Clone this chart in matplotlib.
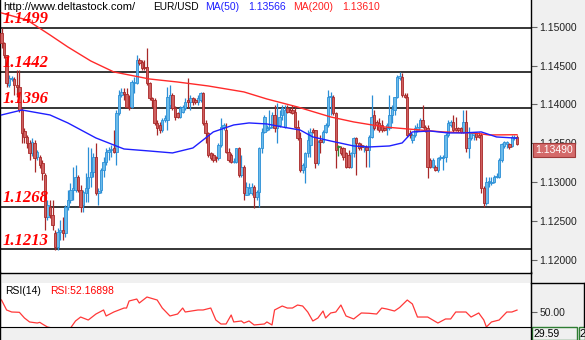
import matplotlib
matplotlib.use("Agg")
import matplotlib.pyplot as plt
from matplotlib.lines import Line2D
from matplotlib.patches import Rectangle
from matplotlib.ticker import FormatStrFormatter
import numpy as np

plt.rcParams['font.family'] = ['Liberation Sans', 'DejaVu Sans']

W, H = 585, 340

# EUR/USD bars, oldest first
opens = [
    1.14923, 1.14794, 1.14639, 1.14252, 1.14329, 1.14329, 1.14252, 1.14226, 1.13929, 1.13658,
    1.13581, 1.13504, 1.13375, 1.13504, 1.13323, 1.13323, 1.13246, 1.13091, 1.12549, 1.12678,
    1.12575, 1.12343, 1.12162, 1.12356, 1.12381, 1.12343, 1.12678, 1.12768, 1.12897, 1.12897,
    1.13065, 1.12897, 1.12704, 1.12859, 1.12923, 1.13065, 1.13130, 1.13323, 1.12859, 1.12897,
    1.13155, 1.13259, 1.13388, 1.13413, 1.13439, 1.13388, 1.13891, 1.14123, 1.14162, 1.14136,
    1.13968, 1.13968, 1.14278, 1.14278, 1.14574, 1.14548, 1.14484, 1.14484, 1.14278, 1.14084,
    1.14058, 1.13762, 1.13736, 1.13671, 1.13800, 1.13800, 1.13994, 1.14123, 1.13955, 1.13891,
    1.13839, 1.13904, 1.13955, 1.14058, 1.14033, 1.14084, 1.14058, 1.14033, 1.14058, 1.14149,
    1.13762, 1.13633, 1.13375, 1.13349, 1.13323, 1.13310, 1.13478, 1.13710, 1.13671, 1.13388,
    1.13349, 1.13259, 1.13259, 1.13439, 1.13091, 1.13194, 1.12833, 1.12859, 1.12859, 1.12936,
    1.12807, 1.12872, 1.13439, 1.13646, 1.13671, 1.13697, 1.13710, 1.13865, 1.13697, 1.13736,
    1.13865, 1.13710, 1.13955, 1.13929, 1.13929, 1.13904, 1.13710, 1.13568, 1.13155, 1.13194,
    1.13375, 1.13478, 1.13671, 1.13671, 1.13246, 1.13542, 1.13517, 1.13646, 1.13736, 1.14097,
    1.14097, 1.13891, 1.13452, 1.13439, 1.13439, 1.13375, 1.13349, 1.13194, 1.13375, 1.13568,
    1.13504, 1.13478, 1.13452, 1.13452, 1.13413, 1.13581, 1.13865, 1.13775, 1.13762, 1.13736,
    1.13697, 1.13697, 1.13697, 1.13865, 1.13929, 1.14097, 1.14342, 1.14355, 1.14123, 1.14097,
    1.13633, 1.13542, 1.13607, 1.13671, 1.13710, 1.13800, 1.13710, 1.13697, 1.13284, 1.13194,
    1.13194, 1.13155, 1.13310, 1.13310, 1.13323, 1.13607, 1.13736, 1.13775, 1.13697, 1.13697,
    1.13697, 1.13646, 1.13775, 1.13439, 1.13568, 1.13607, 1.13633, 1.13607, 1.13607, 1.12923,
    1.12730, 1.13001, 1.12988, 1.13001, 1.13065, 1.13065, 1.13284, 1.13465, 1.13491, 1.13491,
    1.13465, 1.13568, 1.13581,
]
highs = [
    1.14987, 1.14806, 1.14639, 1.14381, 1.14368, 1.14355, 1.14445, 1.14445, 1.13955, 1.13697,
    1.13607, 1.13542, 1.13568, 1.13542, 1.13413, 1.13349, 1.13284, 1.13117, 1.12768, 1.12768,
    1.12768, 1.12381, 1.12407, 1.12510, 1.12549, 1.12704, 1.12897, 1.12988, 1.13194, 1.13220,
    1.13091, 1.12962, 1.12897, 1.13117, 1.13452, 1.13439, 1.13375, 1.13504, 1.12923, 1.13181,
    1.13323, 1.13439, 1.13452, 1.13478, 1.13671, 1.13929, 1.14187, 1.14213, 1.14213, 1.14213,
    1.14123, 1.14316, 1.14355, 1.14639, 1.14600, 1.14574, 1.14574, 1.14729, 1.14290, 1.14097,
    1.14084, 1.13800, 1.13775, 1.13826, 1.13865, 1.14226, 1.14252, 1.14149, 1.13981, 1.13904,
    1.13981, 1.13994, 1.14084, 1.14342, 1.14123, 1.14097, 1.14084, 1.14123, 1.14162, 1.14162,
    1.13800, 1.13646, 1.13388, 1.13375, 1.13336, 1.13504, 1.13826, 1.13762, 1.13762, 1.13439,
    1.13375, 1.13310, 1.13439, 1.13452, 1.13349, 1.13220, 1.13001, 1.12988, 1.12988, 1.12962,
    1.12897, 1.13452, 1.13697, 1.13865, 1.13736, 1.13929, 1.13904, 1.13994, 1.14020, 1.13929,
    1.13994, 1.13994, 1.13994, 1.13955, 1.13994, 1.13968, 1.13800, 1.13646, 1.13246, 1.13388,
    1.13671, 1.13697, 1.13697, 1.13671, 1.13542, 1.13607, 1.13671, 1.13762, 1.14187, 1.14162,
    1.14123, 1.13904, 1.13478, 1.13465, 1.13452, 1.13388, 1.13413, 1.13388, 1.13581, 1.13581,
    1.13517, 1.13504, 1.13478, 1.13478, 1.13607, 1.14123, 1.13929, 1.13800, 1.13826, 1.13800,
    1.13710, 1.13762, 1.14123, 1.13994, 1.14097, 1.14381, 1.14420, 1.14407, 1.14149, 1.14149,
    1.13671, 1.13633, 1.13736, 1.13762, 1.13826, 1.13994, 1.13736, 1.13736, 1.13310, 1.13310,
    1.13220, 1.13323, 1.13349, 1.13349, 1.13633, 1.13800, 1.13800, 1.13865, 1.13839, 1.13710,
    1.13710, 1.13929, 1.13929, 1.13710, 1.13646, 1.13646, 1.13646, 1.13646, 1.13633, 1.12949,
    1.13065, 1.13065, 1.13065, 1.13091, 1.13117, 1.13310, 1.13504, 1.13529, 1.13529, 1.13504,
    1.13607, 1.13607, 1.13607,
]
lows = [
    1.14729, 1.14600, 1.14226, 1.14226, 1.14303, 1.14123, 1.14097, 1.13904, 1.13504, 1.13504,
    1.13439, 1.13284, 1.13336, 1.13130, 1.13284, 1.13181, 1.13026, 1.12381, 1.12510, 1.12536,
    1.12381, 1.12123, 1.12123, 1.12252, 1.12252, 1.12291, 1.12639, 1.12730, 1.12768, 1.12872,
    1.12872, 1.12614, 1.12614, 1.12743, 1.12743, 1.12936, 1.13065, 1.12833, 1.12704, 1.12859,
    1.13065, 1.13220, 1.13284, 1.13323, 1.13375, 1.13220, 1.13865, 1.14097, 1.14058, 1.13955,
    1.13929, 1.13955, 1.14149, 1.14265, 1.14510, 1.14445, 1.14445, 1.14252, 1.14058, 1.13968,
    1.13736, 1.13607, 1.13633, 1.13646, 1.13775, 1.13671, 1.13955, 1.13929, 1.13800, 1.13826,
    1.13826, 1.13891, 1.13929, 1.13955, 1.13929, 1.13994, 1.14007, 1.13994, 1.14033, 1.13736,
    1.13504, 1.13323, 1.13284, 1.13259, 1.13259, 1.13284, 1.13452, 1.13671, 1.13375, 1.13259,
    1.13246, 1.13246, 1.13246, 1.13065, 1.13065, 1.12768, 1.12833, 1.12833, 1.12833, 1.12665,
    1.12768, 1.12678, 1.13375, 1.13633, 1.13658, 1.13671, 1.13697, 1.13646, 1.13504, 1.13710,
    1.13800, 1.13697, 1.13891, 1.13891, 1.13878, 1.13697, 1.13542, 1.13130, 1.13117, 1.12988,
    1.13323, 1.13323, 1.13633, 1.13181, 1.13220, 1.13375, 1.13504, 1.13633, 1.13710, 1.13865,
    1.13865, 1.13181, 1.13336, 1.13349, 1.13284, 1.13181, 1.13181, 1.13181, 1.13323, 1.13091,
    1.13413, 1.13413, 1.13388, 1.13194, 1.13194, 1.13568, 1.13671, 1.13671, 1.13646, 1.13646,
    1.13658, 1.13607, 1.13671, 1.13762, 1.13865, 1.14084, 1.14316, 1.14097, 1.14084, 1.13581,
    1.13568, 1.13504, 1.13581, 1.13646, 1.13697, 1.13697, 1.13646, 1.13052, 1.13181, 1.13181,
    1.13142, 1.13130, 1.13284, 1.13155, 1.13259, 1.13581, 1.13710, 1.13646, 1.13658, 1.13646,
    1.13633, 1.13633, 1.13388, 1.13310, 1.13542, 1.13542, 1.13542, 1.13568, 1.12859, 1.12678,
    1.12704, 1.12936, 1.12962, 1.12988, 1.13052, 1.13052, 1.13259, 1.13439, 1.13439, 1.13426,
    1.13452, 1.13542, 1.13478,
]
closes = [
    1.14794, 1.14639, 1.14278, 1.14342, 1.14342, 1.14252, 1.14226, 1.13929, 1.13633, 1.13581,
    1.13504, 1.13375, 1.13517, 1.13310, 1.13388, 1.13220, 1.13117, 1.12549, 1.12704, 1.12575,
    1.12446, 1.12162, 1.12356, 1.12381, 1.12343, 1.12678, 1.12768, 1.12897, 1.12923, 1.13065,
    1.12897, 1.12678, 1.12872, 1.12923, 1.13065, 1.13130, 1.13323, 1.12859, 1.12884, 1.13155,
    1.13259, 1.13388, 1.13413, 1.13426, 1.13388, 1.13891, 1.14123, 1.14162, 1.14136, 1.13968,
    1.13955, 1.14290, 1.14290, 1.14574, 1.14536, 1.14471, 1.14471, 1.14278, 1.14084, 1.14058,
    1.13762, 1.13697, 1.13671, 1.13800, 1.13826, 1.14097, 1.14123, 1.13955, 1.13839, 1.13839,
    1.13955, 1.13968, 1.14033, 1.14033, 1.14084, 1.14033, 1.14033, 1.14084, 1.14149, 1.13762,
    1.13633, 1.13349, 1.13310, 1.13284, 1.13310, 1.13478, 1.13710, 1.13736, 1.13388, 1.13284,
    1.13259, 1.13271, 1.13439, 1.13091, 1.13194, 1.12859, 1.12936, 1.12923, 1.12936, 1.12807,
    1.12872, 1.13439, 1.13646, 1.13839, 1.13697, 1.13710, 1.13865, 1.13697, 1.13736, 1.13839,
    1.13955, 1.13929, 1.13904, 1.13904, 1.13891, 1.13710, 1.13568, 1.13155, 1.13220, 1.13375,
    1.13542, 1.13646, 1.13646, 1.13246, 1.13517, 1.13517, 1.13646, 1.13736, 1.14097, 1.14110,
    1.13891, 1.13413, 1.13452, 1.13375, 1.13323, 1.13194, 1.13194, 1.13375, 1.13568, 1.13504,
    1.13439, 1.13452, 1.13465, 1.13413, 1.13581, 1.13839, 1.13697, 1.13736, 1.13671, 1.13671,
    1.13671, 1.13736, 1.13865, 1.13942, 1.14097, 1.14355, 1.14368, 1.14123, 1.14097, 1.13607,
    1.13607, 1.13607, 1.13697, 1.13710, 1.13800, 1.13710, 1.13671, 1.13194, 1.13194, 1.13284,
    1.13155, 1.13310, 1.13323, 1.13323, 1.13607, 1.13762, 1.13775, 1.13671, 1.13671, 1.13671,
    1.13646, 1.13775, 1.13439, 1.13568, 1.13633, 1.13633, 1.13581, 1.13581, 1.12923, 1.12730,
    1.13001, 1.13014, 1.13001, 1.13065, 1.13078, 1.13284, 1.13491, 1.13517, 1.13517, 1.13452,
    1.13581, 1.13581, 1.13490,
]

# moving averages, sampled at bar numbers
ma50_bar = [0, 8, 19, 26, 37, 48, 58, 67, 75, 83, 91, 97, 104, 110, 117, 122, 129, 138,
            144, 152, 157, 161, 168, 175, 181, 188, 194, 202]
ma50_val = [1.13865, 1.13929, 1.13865, 1.13762, 1.13568, 1.13426, 1.13400, 1.13375,
            1.13439, 1.13646, 1.13736, 1.13762, 1.13749, 1.13710, 1.13671, 1.13581,
            1.13529, 1.13465, 1.13452, 1.13465, 1.13504, 1.13646, 1.13658, 1.13633,
            1.13633, 1.13646, 1.13581, 1.13566]
ma200_bar = [0, 10, 19, 26, 35, 44, 58, 69, 81, 95, 104, 116, 129, 138, 150, 164, 173,
             185, 191, 202]
ma200_val = [1.15181, 1.15090, 1.14897, 1.14742, 1.14561, 1.14420, 1.14329, 1.14290,
             1.14239, 1.14162, 1.14071, 1.13968, 1.13839, 1.13775, 1.13710, 1.13671,
             1.13646, 1.13633, 1.13607, 1.13610]

levels = [1.1499, 1.1442, 1.1396, 1.1268, 1.1213]
price_ticks = [1.12, 1.125, 1.13, 1.135, 1.14, 1.145, 1.15]

rsi_bar = [0, 2, 4, 7, 9, 11, 14, 15, 16, 18, 23, 27, 29, 31, 34, 37, 40, 41, 44, 48,
           49, 50, 53, 54, 55, 57, 61, 63, 66, 69, 71, 72, 77, 79, 82, 84, 86, 88, 90, 91,
           94, 95, 97, 99, 103, 104, 106, 107, 110, 112, 114, 116, 118, 120, 122, 124, 126,
           127, 129, 131, 133, 135, 138, 141, 144, 147, 149, 151, 154, 156, 159, 161, 163,
           167, 171, 174, 176, 178, 182, 184, 187, 189, 190, 192, 195, 198, 200, 202]
rsi_val = [65.6, 52.3, 49.6, 49.2, 41.6, 36.3, 34.9, 35.8, 33.6, 29.6, 26.0, 28.0, 37.6,
           42.9, 38.9, 46.9, 52.3, 44.3, 49.6, 54.9, 54.9, 64.3, 66.9, 61.6, 64.3, 69.6,
           65.6, 54.9, 44.3, 46.9, 54.9, 49.6, 52.3, 52.3, 54.9, 38.9, 33.6, 33.6, 45.6,
           36.3, 37.6, 34.9, 37.6, 32.3, 33.6, 36.3, 32.3, 52.3, 57.6, 54.9, 54.9, 58.9,
           57.6, 49.6, 37.6, 41.6, 50.9, 41.6, 48.3, 49.6, 58.9, 44.3, 40.3, 48.3, 47.9,
           46.9, 54.9, 53.6, 50.9, 55.6, 65.6, 60.3, 42.9, 42.9, 34.9, 40.3, 40.3, 49.6,
           49.6, 42.9, 48.3, 38.9, 29.6, 36.3, 38.9, 49.6, 49.6, 52.16898]
rsi_ticks = [50]
rsi_floor = 29.59

UP_EDGE, UP_FILL = '#2b8fd6', '#6bbbea'
DN_EDGE, DN_FILL = '#a82828', '#cf5f5f'
DOJI = '#2e8b3a'


def px_rect(x0, y0, x1, y1):
    # pixel box (top-left origin) -> figure fraction
    return [x0 / W, 1 - y1 / H, (x1 - x0) / W, (y1 - y0) / H]


def fig_line(x0, y0, x1, y1, **kw):
    fig.add_artist(Line2D([x0 / W, x1 / W], [1 - y0 / H, 1 - y1 / H],
                          transform=fig.transFigure, color='black', lw=1.0, **kw))


def fig_text(x, y, s, **kw):
    fig.text(x / W, 1 - y / H, s, va='center', ha='left', **kw)


fig = plt.figure(figsize=(W / 100, H / 100), dpi=100, facecolor='#f0f0f0')
ax = fig.add_axes(px_rect(0, 0, 531, 272.7))
rsi_ax = fig.add_axes(px_rect(0, 283, 531, 327))

o = np.array(opens)
hi = np.array(highs)
lo = np.array(lows)
c = np.array(closes)
x = np.arange(len(c))

body_lo = np.minimum(o, c)
body_h = np.maximum(np.abs(c - o), 0.00007)
for mask, edge, fill in [(c > o, UP_EDGE, UP_FILL), (c < o, DN_EDGE, DN_FILL),
                         (c == o, DOJI, DOJI)]:
    ax.vlines(x[mask], lo[mask], hi[mask], color=edge, lw=0.9, zorder=2)
    ax.bar(x[mask], body_h[mask], 0.95, bottom=body_lo[mask], color=fill,
           edgecolor=edge, linewidth=0.6, zorder=3)

ax.plot(ma200_bar, ma200_val, color='#ff2a2a', lw=1.0, zorder=4)
ax.plot(ma50_bar, ma50_val, color='#1f1fff', lw=1.0, zorder=4)

for lvl in levels:
    ax.axhline(lvl, color='black', lw=1.1, zorder=1)
    ax.annotate(f'{lvl:.4f}', xy=(3 / 531, lvl), xycoords=('axes fraction', 'data'),
                xytext=(0, 3.2), textcoords='offset points', va='baseline', ha='left',
                color='#ff0000', fontsize=12, fontweight='bold', fontstyle='italic',
                family='Liberation Serif', zorder=6)

step = 515.5 / (len(c) - 1)
ax.set_xlim(-1.5 / step, len(c) - 1 + 14 / step)
ax.set_ylim(1.11830, 1.15348)
ax.set_xticks([])
ax.yaxis.tick_right()
ax.set_yticks(price_ticks)
ax.yaxis.set_major_formatter(FormatStrFormatter('%.5f'))
ax.tick_params(axis='y', length=4, width=0.8, color='#666666', labelsize=7.5,
               pad=2, labelcolor='#222222')
ax.spines['top'].set_visible(False)
for s in ('left', 'right', 'bottom'):
    ax.spines[s].set_linewidth(1.0)

# last price tag on the scale
ax.annotate(f'{closes[-1]:.5f}', xy=(1, closes[-1]), xycoords=('axes fraction', 'data'),
            xytext=(3, -4.5), textcoords='offset points', va='center', ha='left',
            color='white', fontsize=7.5, annotation_clip=False, zorder=10,
            bbox=dict(boxstyle='square,pad=0.2', fc='#d46a6a', ec='#9e3b3b', lw=0.8))

# RSI(14) window
rsi_ax.plot(rsi_bar, rsi_val, color='#ff3838', lw=0.9)
rsi_ax.set_xlim(ax.get_xlim())
rsi_ax.set_ylim(rsi_floor, 88.3)
rsi_ax.set_xticks([])
rsi_ax.yaxis.tick_right()
rsi_ax.set_yticks(rsi_ticks)
rsi_ax.yaxis.set_major_formatter(FormatStrFormatter('%.2f'))
rsi_ax.tick_params(axis='y', length=4, width=0.8, color='#666666', labelsize=7.5,
                   pad=2, labelcolor='#222222')
rsi_ax.spines['top'].set_visible(False)

fig_text(5, 291, 'RSI(14)', fontsize=7.5, color='black')
fig_text(50, 291, f'RSI:{rsi_val[-1]:.5f}', fontsize=7.5, color='#ff0000')

# header line
fig_text(3, 7, 'http://www.deltastock.com/', fontsize=8, color='black')
fig_text(153, 7, 'EUR/USD', fontsize=7.3, color='black')
fig_text(205, 7, 'MA(50)', fontsize=7.5, color='#1f1fff')
fig_text(248, 7, f'{ma50_val[-1]:.5f}', fontsize=7.5, color='#1f1fff')
fig_text(293, 7, 'MA(200)', fontsize=7.5, color='#ff2020')
fig_text(342, 7, f'{ma200_val[-1]:.5f}', fontsize=7.5, color='#ff2020')

# window frame bits
fig_line(531, 272, 531, 340)
fig_line(0, 272, 0, 340)
fig_line(531, 283, 585, 283)
fig_line(584, 283, 584, 327)
fig.add_artist(Rectangle((532 / W, 0.5 / H), 45 / W, 12.5 / H, transform=fig.transFigure,
                         fill=False, ec='#2e7d32', lw=1.0))
fig.add_artist(Rectangle((578.5 / W, 0.5 / H), 6 / W, 12.5 / H, transform=fig.transFigure,
                         fill=False, ec='#2e7d32', lw=1.0))
fig_text(533, 334, f'{rsi_floor:.2f}', fontsize=7.5, color='black')
fig_text(579, 334, '2', fontsize=8, color='black')

fig.savefig('out.png', dpi=100, facecolor=fig.get_facecolor())
